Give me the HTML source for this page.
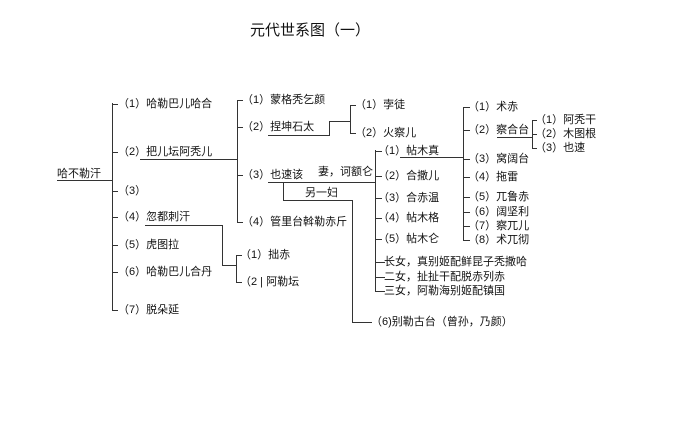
<!DOCTYPE html>
<html><head><meta charset="utf-8"><style>
body{margin:0;background:#fff}
svg{display:block}
text{font-family:"Liberation Sans","Noto Sans CJK SC",sans-serif;font-size:11px;fill:#111;dominant-baseline:middle}
line,polyline{stroke:#333;stroke-width:1;fill:none}
</style></head><body>
<svg width="690" height="422" viewBox="0 0 690 422">
<text x="250" y="31" style="font-size:15px">元代世系图（一）</text>
<text x="57" y="174">哈不勒汗</text>
<line x1="57" y1="180.5" x2="112" y2="180.5"/>
<line x1="112.5" y1="103" x2="112.5" y2="311"/>
<g>
<line x1="112" y1="104.5" x2="118" y2="104.5"/><text x="118" y="104">（1）哈勒巴儿哈合</text>
<line x1="112" y1="152.5" x2="118" y2="152.5"/><text x="118" y="152">（2）把儿坛阿秃儿</text>
<line x1="112" y1="191.5" x2="118" y2="191.5"/><text x="118" y="191">（3）</text>
<line x1="112" y1="217.5" x2="118" y2="217.5"/><text x="118" y="217">（4）忽都刺汗</text>
<line x1="112" y1="245.5" x2="118" y2="245.5"/><text x="118" y="245">（5）虎图拉</text>
<line x1="112" y1="272.5" x2="118" y2="272.5"/><text x="118" y="272">（6）哈勒巴儿合丹</text>
<line x1="112" y1="310.5" x2="118" y2="310.5"/><text x="118" y="310">（7）脱朵延</text>
</g>
<line x1="140" y1="159.5" x2="237" y2="159.5"/>
<line x1="237.5" y1="100" x2="237.5" y2="222"/>
<line x1="237" y1="100.5" x2="243" y2="100.5"/><text x="242" y="100">（1）蒙格秃乞颜</text>
<line x1="237" y1="127.5" x2="243" y2="127.5"/><text x="242" y="127">（2）捏坤石太</text>
<line x1="237" y1="175.5" x2="243" y2="175.5"/><text x="242" y="175">（3）也速该</text>
<line x1="237" y1="222.5" x2="243" y2="222.5"/><text x="242" y="222">（4）管里台斡勒赤斤</text>
<polyline points="268,135.5 329.5,135.5 329.5,121.5 350,121.5"/>
<line x1="350.5" y1="105" x2="350.5" y2="133"/>
<line x1="350" y1="105.5" x2="356" y2="105.5"/><text x="355" y="105">（1）孛徒</text>
<line x1="350" y1="133.5" x2="356" y2="133.5"/><text x="355" y="133">（2）火察儿</text>
<text x="318" y="172">妻，诃额仑</text>
<line x1="268" y1="182.5" x2="375" y2="182.5"/>
<polyline points="283.5,182 283.5,200.5 352.5,200.5 352.5,322.5 372,322.5"/>
<text x="305" y="193">另一妇</text>
<text x="371" y="322">（6)别勒古台（曾孙，乃颜）</text>
<line x1="375.5" y1="150" x2="375.5" y2="291"/>
<line x1="375" y1="151.5" x2="382" y2="151.5"/><text x="378" y="151">（1）帖木真</text>
<line x1="375" y1="176.5" x2="382" y2="176.5"/><text x="378" y="176">（2）合撒儿</text>
<line x1="375" y1="198.5" x2="382" y2="198.5"/><text x="378" y="198">（3）合赤温</text>
<line x1="375" y1="218.5" x2="382" y2="218.5"/><text x="378" y="218">（4）帖木格</text>
<line x1="375" y1="239.5" x2="382" y2="239.5"/><text x="378" y="239">（5）帖木仑</text>
<line x1="375" y1="262.5" x2="385" y2="262.5"/><text x="384" y="262">长女，真别姬配鲜昆子秃撒哈</text>
<line x1="375" y1="277.5" x2="385" y2="277.5"/><text x="384" y="277">二女，扯扯干配脱赤列赤</text>
<line x1="375" y1="291.5" x2="385" y2="291.5"/><text x="384" y="291">三女，阿勒海别姬配镇国</text>
<line x1="400" y1="157.5" x2="463" y2="157.5"/>
<line x1="463.5" y1="107" x2="463.5" y2="240"/>
<line x1="463" y1="107.5" x2="470" y2="107.5"/><text x="468" y="107">（1）术赤</text>
<line x1="463" y1="130.5" x2="470" y2="130.5"/><text x="468" y="130">（2）察合台</text>
<line x1="463" y1="159.5" x2="470" y2="159.5"/><text x="468" y="159">（3）窝阔台</text>
<line x1="463" y1="177.5" x2="470" y2="177.5"/><text x="468" y="177">（4）拖雷</text>
<line x1="463" y1="197.5" x2="470" y2="197.5"/><text x="468" y="197">（5）兀鲁赤</text>
<line x1="463" y1="212.5" x2="470" y2="212.5"/><text x="468" y="212">（6）阔坚利</text>
<line x1="463" y1="226.5" x2="470" y2="226.5"/><text x="468" y="226">（7）察兀儿</text>
<line x1="463" y1="240.5" x2="470" y2="240.5"/><text x="468" y="240">（8）术兀彻</text>
<line x1="497" y1="137.5" x2="532" y2="137.5"/>
<line x1="532.5" y1="120" x2="532.5" y2="148"/>
<line x1="532" y1="120.5" x2="537" y2="120.5"/><text x="535" y="120">（1）阿秃干</text>
<line x1="532" y1="134.5" x2="537" y2="134.5"/><text x="535" y="134">（2）木图根</text>
<line x1="532" y1="148.5" x2="537" y2="148.5"/><text x="535" y="148">（3）也速</text>
<polyline points="145,225.5 222.5,225.5 222.5,265.5 236,265.5"/>
<line x1="236.5" y1="255" x2="236.5" y2="282"/>
<line x1="236" y1="255.5" x2="242" y2="255.5"/><text x="240" y="255">（1）拙赤</text>
<line x1="236" y1="282.5" x2="242" y2="282.5"/><text x="240" y="282">（2 | 阿勒坛</text>
</svg>
</body></html>
